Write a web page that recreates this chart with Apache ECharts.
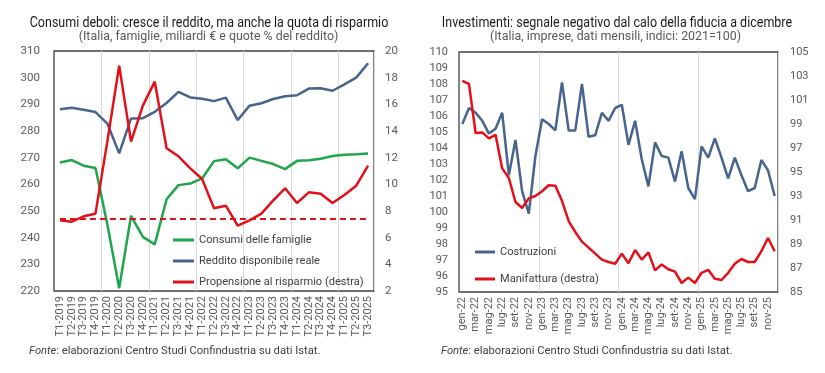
<!DOCTYPE html>
<html><head><meta charset="utf-8">
<script src="https://cdn.jsdelivr.net/npm/echarts@6/dist/echarts.min.js"></script>
<style>html,body{margin:0;padding:0;background:#fff}#c{width:825px;height:373px}</style>
</head><body><div id="c"></div>
<script>
// ---- Left chart data (quarterly) ----
const quarters = ['T1-2019','T2-2019','T3-2019','T4-2019','T1-2020','T2-2020','T3-2020','T4-2020',
  'T1-2021','T2-2021','T3-2021','T4-2021','T1-2022','T2-2022','T3-2022','T4-2022',
  'T1-2023','T2-2023','T3-2023','T4-2023','T1-2024','T2-2024','T3-2024','T4-2024',
  'T1-2025','T2-2025','T3-2025'];
const consumi = [268.2, 269.1, 267.0, 266.1, 245.0, 221.0, 248.2, 240.3, 237.5, 254.4, 259.7, 260.3, 262.2,
  268.7, 269.4, 266.0, 270.0, 268.8, 267.6, 265.7, 268.8, 269.0, 269.6, 270.6, 271.1, 271.3, 271.6];
const reddito = [288.2, 288.7, 288.0, 287.1, 282.8, 271.6, 284.7, 284.8, 287.2, 290.5, 294.7, 292.6, 292.1,
  291.2, 292.5, 284.1, 289.5, 290.4, 292.0, 293.0, 293.4, 295.9, 296.0, 295.1, 297.5, 300.0, 305.4];
const propensione = [7.3, 7.2, 7.6, 7.8, 13.2, 18.9, 13.2, 15.9, 17.7, 12.7, 12.1, 11.2, 10.4,
  8.2, 8.4, 6.9, 7.3, 7.8, 8.8, 9.7, 8.6, 9.4, 9.3, 8.6, 9.2, 9.9, 11.4];
const propensioneMedia = 7.4;

// ---- Right chart data (monthly) ----
const mesi = ['gen','feb','mar','apr','mag','giu','lug','ago','set','ott','nov','dic'];
const anni = ['22','23','24','25'];
const months = [];
anni.forEach(a => mesi.forEach(m => months.push(m + '-' + a)));
const costruzioni = [105.5, 106.5, 106.2, 105.7, 104.9, 105.2, 106.2, 102.3, 104.5, 101.3, 99.9, 103.5,
  105.8, 105.5, 105.1, 108.1, 105.1, 105.1, 108.0, 104.7, 104.8, 106.2, 105.7, 106.5,
  106.7, 104.2, 105.7, 103.3, 101.6, 104.35, 103.5, 103.4, 101.9, 103.8, 101.5, 100.8,
  104.1, 103.4, 104.6, 103.4, 102.1, 103.4, 102.3, 101.3, 101.5, 103.25, 102.6, 101.0];
const manifattura = [102.6, 102.35, 98.25, 98.3, 97.8, 98.1, 95.3, 94.5, 92.5, 92.0, 92.8, 93.0,
  93.4, 93.9, 93.85, 92.6, 90.9, 90.0, 89.2, 88.7, 88.2, 87.7, 87.5, 87.35,
  88.2, 87.4, 88.5, 87.7, 88.3, 86.8, 87.3, 86.9, 86.7, 85.75, 86.2, 85.75,
  86.6, 86.85, 86.1, 86.0, 86.6, 87.35, 87.75, 87.5, 87.5, 88.4, 89.5, 88.4];

// ---- Texts ----
const titleL = 'Consumi deboli: cresce il reddito, ma anche la quota di risparmio';
const subL = '(Italia, famiglie, miliardi € e quote % del reddito)';
const titleR = 'Investimenti: segnale negativo dal calo della fiducia a dicembre';
const subR = '(Italia, imprese, dati mensili, indici: 2021=100)';
const fonte = '{i|Fonte}: elaborazioni Centro Studi Confindustria su dati Istat.';

const GREEN = '#1fa64b', BLUE = '#46648c', RED = '#e3101a';
const FF = 'Roboto';
const LABEL = '#595959';

function titleText(x, y, text, size, color, sx) {
  return { type: 'text', x: x, y: y, scaleX: sx, silent: true,
    style: { text: text, fontFamily: FF, fontSize: size, fill: color, align: 'center', verticalAlign: 'middle' } };
}
function fonteText(x, y) {
  return { type: 'text', x: x, y: y, silent: true,
    style: { text: fonte, fontFamily: FF, fontSize: 11.2, fill: '#404040', align: 'left', verticalAlign: 'middle',
      rich: { i: { fontStyle: 'italic', fontFamily: FF, fontSize: 11.2, fill: '#404040' } } } };
}

const xAxisCommon = {
  type: 'category', boundaryGap: true,
  axisLine: { show: false }, axisTick: { show: false },
  axisLabel: { rotate: 90, fontFamily: FF, fontSize: 11, color: LABEL, margin: 5 }
};
const yAxisCommon = {
  type: 'value', axisLine: { show: false }, axisTick: { show: false }, splitLine: { show: false },
  axisLabel: { fontFamily: FF, fontSize: 11.5, color: LABEL }
};

const chart = echarts.init(document.getElementById('c'), null, { renderer: 'canvas' });
chart.setOption({
  animation: false,
  backgroundColor: '#fff',
  graphic: [
    titleText(209, 23, titleL, 15, '#1a1a1a', 0.834),
    titleText(208.5, 37, subL, 12.4, '#595959', 1),
    titleText(617, 23, titleR, 15, '#1a1a1a', 0.834),
    titleText(615.5, 37, subR, 12.4, '#595959', 1),
    fonteText(29, 351),
    fonteText(441, 351)
  ],
  grid: [
    { left: 54, top: 51, width: 320, height: 240, show: true, borderColor: '#404040', borderWidth: 1.3, containLabel: false },
    { left: 459, top: 52, width: 319, height: 240, show: true, borderColor: '#404040', borderWidth: 1.3, containLabel: false }
  ],
  xAxis: [
    Object.assign({}, xAxisCommon, { gridIndex: 0, data: quarters,
      axisLabel: Object.assign({}, xAxisCommon.axisLabel, { interval: 0 }),
      splitLine: { show: true, interval: (i) => i > 0 && i % 4 === 0, lineStyle: { color: '#d9d9d9', width: 1 } } }),
    Object.assign({}, xAxisCommon, { gridIndex: 1, data: months,
      axisLabel: Object.assign({}, xAxisCommon.axisLabel, { interval: 1 }),
      splitLine: { show: true, interval: (i) => i > 0 && i % 12 === 0, lineStyle: { color: '#d9d9d9', width: 1 } } })
  ],
  yAxis: [
    Object.assign({}, yAxisCommon, { gridIndex: 0, position: 'left', min: 220, max: 310, interval: 10,
      axisLabel: Object.assign({}, yAxisCommon.axisLabel, { margin: 14 }) }),
    Object.assign({}, yAxisCommon, { gridIndex: 0, position: 'right', min: 2, max: 20, interval: 2,
      axisLabel: Object.assign({}, yAxisCommon.axisLabel, { margin: 11 }) }),
    Object.assign({}, yAxisCommon, { gridIndex: 1, position: 'left', min: 95, max: 110, interval: 1,
      axisLabel: Object.assign({}, yAxisCommon.axisLabel, { margin: 11, fontSize: 11 }) }),
    Object.assign({}, yAxisCommon, { gridIndex: 1, position: 'right', min: 85, max: 105, interval: 2,
      axisLabel: Object.assign({}, yAxisCommon.axisLabel, { margin: 12, fontSize: 11 }) })
  ],
  legend: [
    { data: ['Consumi delle famiglie', 'Reddito disponibile reale', 'Propensione al risparmio (destra)'],
      orient: 'vertical', left: 173, top: 233, padding: 0, itemGap: 7, icon: 'rect', itemWidth: 21, itemHeight: 3,
      textStyle: { fontFamily: FF, fontSize: 11.1, color: '#404040', lineHeight: 14 }, selectedMode: false },
    { data: ['Costruzioni', 'Manifattura (destra)'],
      orient: 'vertical', left: 475, top: 245, padding: 0, itemGap: 13, icon: 'rect', itemWidth: 20, itemHeight: 3,
      textStyle: { fontFamily: FF, fontSize: 11.1, color: '#404040', lineHeight: 14 }, selectedMode: false }
  ],
  series: [
    { name: 'Consumi delle famiglie', type: 'line', xAxisIndex: 0, yAxisIndex: 0, data: consumi,
      showSymbol: false, symbol: 'none', color: GREEN, lineStyle: { color: GREEN, width: 2.5 } },
    { name: 'Reddito disponibile reale', type: 'line', xAxisIndex: 0, yAxisIndex: 0, data: reddito,
      showSymbol: false, symbol: 'none', color: BLUE, lineStyle: { color: BLUE, width: 2.5 } },
    { name: 'Propensione al risparmio (destra)', type: 'line', xAxisIndex: 0, yAxisIndex: 1, data: propensione,
      showSymbol: false, symbol: 'none', color: RED, lineStyle: { color: RED, width: 2.5 },
      markLine: { silent: true, symbol: ['none', 'none'], label: { show: false },
        lineStyle: { color: RED, width: 1.8, type: [6, 4] },
        data: [[{ coord: [quarters[0], propensioneMedia] }, { coord: [quarters[quarters.length - 1], propensioneMedia] }]] } },
    { name: 'Costruzioni', type: 'line', xAxisIndex: 1, yAxisIndex: 2, data: costruzioni,
      showSymbol: false, symbol: 'none', color: BLUE, lineStyle: { color: BLUE, width: 2.5 } },
    { name: 'Manifattura (destra)', type: 'line', xAxisIndex: 1, yAxisIndex: 3, data: manifattura,
      showSymbol: false, symbol: 'none', color: RED, lineStyle: { color: RED, width: 2.5 } }
  ]
});
</script>
</body></html>
